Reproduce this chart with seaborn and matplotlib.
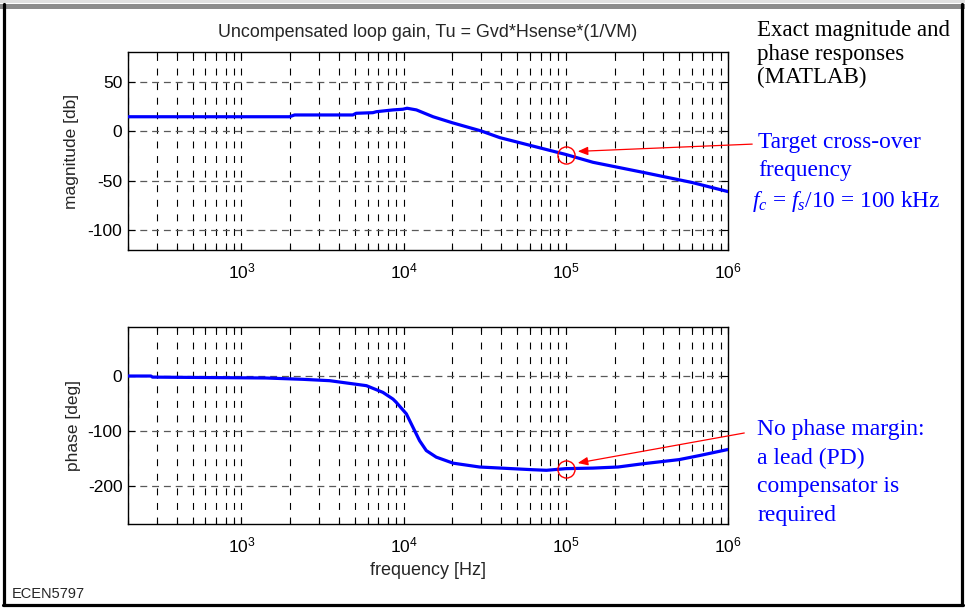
import numpy as np
import pandas as pd
import matplotlib
matplotlib.use("Agg")
import matplotlib.pyplot as plt
import seaborn as sns
from matplotlib.ticker import LogLocator, NullFormatter, FixedLocator

# ---- data ----
mag_freq = [200, 550, 1977, 2130, 4864, 5100, 6460, 6800, 8600, 9900, 10500,
            12000, 15200, 20000, 30000, 39200, 100000, 147000, 300000, 600000, 1000000]
mag_db = [14.6, 14.6, 14.6, 16.4, 16.4, 18.1, 18.7, 19.7, 21.5, 22.2, 23.2,
          21.5, 14.6, 8.5, 0.3, -6.5, -23.5, -31.4, -41.6, -51.8, -61.0]

ph_freq = [200, 277, 283, 1420, 2390, 3500, 5900, 7450, 8600, 9012, 10400, 11400,
           12550, 13800, 15900, 20200, 29400, 63000, 76000, 100000, 147000, 210000,
           300000, 500000, 670000, 1000000]
ph_deg = [0, 0, -2, -3.6, -6, -8.5, -17.6, -29.8, -42, -48, -69, -93,
          -118, -136, -148, -159, -166, -171, -172, -169, -168, -166,
          -160, -152.5, -145, -134]

x_major = [1e3, 1e4, 1e5, 1e6]
mag_yticks = [-100, -50, 0, 50]
ph_yticks = [-200, -100, 0]

title = "Uncompensated loop gain, Tu = Gvd*Hsense*(1/VM)"
note_top = "Exact magnitude and\nphase responses\n(MATLAB)"
note_mag = ["Target cross-over", "frequency"]
note_ph = "No phase margin:\na lead (PD)\ncompensator is\nrequired"

sns.set_style("white")
plt.rcParams["font.family"] = ["Liberation Sans", "DejaVu Sans"]
plt.rcParams["mathtext.fontset"] = "custom"
plt.rcParams["mathtext.rm"] = "Liberation Serif"
plt.rcParams["mathtext.it"] = "Liberation Serif:italic"
plt.rcParams["lines.scale_dashes"] = False

fig = plt.figure(figsize=(9.65, 6.13), dpi=100)
fig.patch.set_facecolor("white")

ax1 = fig.add_axes([128/965, 1-250/613, 600/965, 198/613])
ax2 = fig.add_axes([128/965, 1-524/613, 600/965, 197.3/613])

df_mag = pd.DataFrame({"f": mag_freq, "v": mag_db})
df_ph = pd.DataFrame({"f": ph_freq, "v": ph_deg})

for ax, df, ylim, yt in [(ax1, df_mag, (-120, 80), mag_yticks),
                         (ax2, df_ph, (-270, 90), ph_yticks)]:
    ax.set_xscale("log")
    sns.lineplot(data=df, x="f", y="v", ax=ax, color=(0, 0, 1), lw=2.3, zorder=5)
    ax.set_xlim(200, 1e6)
    ax.set_ylim(*ylim)
    ax.xaxis.set_major_locator(FixedLocator(x_major))
    ax.xaxis.set_minor_locator(LogLocator(base=10, subs=np.arange(2, 10), numticks=20))
    ax.xaxis.set_minor_formatter(NullFormatter())
    ax.set_yticks(yt)
    ax.set_yticklabels([str(v) for v in yt])
    ax.set_xlabel("")
    ax.set_ylabel("")
    ax.tick_params(which="both", direction="in", top=True, right=True,
                   bottom=True, left=True, labelsize=12.5, colors="black")
    ax.tick_params(axis="y", pad=4)
    ax.tick_params(axis="x", pad=8)
    ax.tick_params(which="major", length=5, width=0.8)
    ax.tick_params(which="minor", length=3, width=0.8)
    ax.xaxis.grid(True, which="both", color="black", ls=(0, (5, 5.5)), lw=0.8)
    ax.yaxis.grid(True, which="major", color="0.35", ls=(0, (5, 3.5)), lw=0.9)
    for s in ax.spines.values():
        s.set_color("black")
        s.set_linewidth(1.0)
        s.set_visible(True)

ax1.set_title(title, fontsize=12.9, pad=11)
ax1.set_ylabel("magnitude [db]", fontsize=12.5, labelpad=6)
ax2.set_ylabel("phase [deg]", fontsize=12.5, labelpad=5)
ax2.set_xlabel("frequency [Hz]", fontsize=13, labelpad=5)

# red markers and arrows
for ax, yv in [(ax1, -24.5), (ax2, -169)]:
    ax.plot([1e5], [yv], marker="o", ms=12.3, mfc="none", mec="red", mew=1.0, zorder=6)

fig.patches.append(matplotlib.patches.FancyArrowPatch(
    (755/965, 1-144/613), (575/965, 1-151.5/613), transform=fig.transFigure,
    arrowstyle="-|>,head_length=6,head_width=2.5", color="red", lw=0.9))
fig.patches.append(matplotlib.patches.FancyArrowPatch(
    (747/965, 1-432.5/613), (575/965, 1-463.5/613), transform=fig.transFigure,
    arrowstyle="-|>,head_length=6,head_width=2.5", color="red", lw=0.9))

serif = ["Liberation Serif", "DejaVu Serif"]
fig.text(757/965, 1-20/613, note_top, family=serif, fontsize=16.5, va="top",
         ha="left", color="black", linespacing=1.16)
fig.text(758/965, 1-132/613, note_mag[0], family=serif, fontsize=16.8, va="top", color="blue")
fig.text(758/965, 1-160/613, note_mag[1], family=serif, fontsize=16.8, va="top", color="blue")
fig.text(752/965, 1-189/613, r"$f_{c}$ = $f_{s}$/10 = 100 kHz",
         family=serif, fontsize=16.8, va="top", color="blue")
fig.text(757/965, 1-419/613, note_ph, family=serif, fontsize=17, va="top",
         color="blue", linespacing=1.47)

fig.text(12/965, 1-594/613, "ECEN5797", fontsize=10.5, va="center", ha="left")

# slide frame
fig.add_artist(plt.Rectangle((0, 1-3/613), 1, 3/613, transform=fig.transFigure,
                             color="0.88", lw=0))
fig.add_artist(plt.Rectangle((0, 1-8.5/613), 1, 4.5/613, transform=fig.transFigure,
                             color="0.55", lw=0))
fig.add_artist(plt.Line2D([3.5/965, 3.5/965], [1-605/613, 1-4/613], transform=fig.transFigure,
                          color="black", lw=2.3))
fig.add_artist(plt.Line2D([962/965, 962/965], [1-605/613, 1-4/613], transform=fig.transFigure,
                          color="black", lw=2.3))
fig.add_artist(plt.Line2D([3/965, 963/965], [1-604.5/613, 1-604.5/613], transform=fig.transFigure,
                          color="black", lw=2.3))

fig.savefig("out.png", dpi=100, facecolor="white")
